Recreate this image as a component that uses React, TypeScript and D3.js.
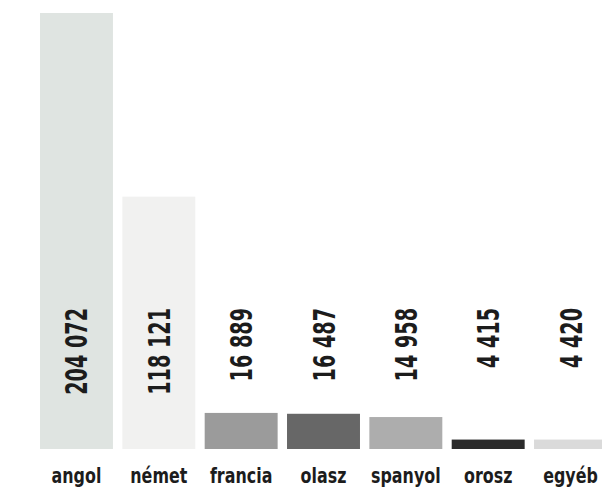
import React, { useEffect, useRef } from 'react';
import * as d3 from 'd3';

const languages = ['angol', 'német', 'francia', 'olasz', 'spanyol', 'orosz', 'egyéb'];
const counts = [204072, 118121, 16889, 16487, 14958, 4415, 4420];
const valueLabels = ['204 072', '118 121', '16 889', '16 487', '14 958', '4 415', '4 420'];
const barColors = ['#dfe4e1', '#f1f1f0', '#9b9b9b', '#676767', '#adadad', '#2b2b2b', '#dadada'];

const W = 602;
const H = 488;

const LanguageBars = () => {
    const svgRef = useRef(null);

    useEffect(() => {
        if (!svgRef.current) return;
        const svg = d3.select(svgRef.current);
        svg.selectAll('*').remove();

        // no condensed font installed, so squeeze DejaVu horizontally
        const font = "'DejaVu Sans', sans-serif";
        const baseY = 449;

        // Scales
        const x = d3.scaleBand()
            .domain(languages)
            .range([40, 607])
            .paddingInner(0.114)
            .paddingOuter(0);

        const y = d3.scaleLinear()
            .domain([0, 204072])
            .range([baseY, 13]);

        // Bars
        svg.append('g')
            .selectAll('rect')
            .data(languages)
            .join('rect')
            .attr('x', d => x(d))
            .attr('y', (d, i) => y(counts[i]))
            .attr('width', x.bandwidth())
            .attr('height', (d, i) => baseY - y(counts[i]))
            .attr('fill', (d, i) => barColors[i]);

        // Vertical value labels
        svg.append('g')
            .selectAll('text')
            .data(languages)
            .join('text')
            .attr('transform', d => `translate(${x(d) + x.bandwidth() / 2 + 11},308) rotate(-90) scale(0.64,1)`)
            .attr('text-anchor', 'end')
            .attr('font-family', font)
            .attr('font-weight', 'bold')
            .attr('font-size', 30)
            .attr('fill', '#1c1c1c')
            .text((d, i) => valueLabels[i]);

        // Category labels
        svg.append('g')
            .selectAll('text')
            .data(languages)
            .join('text')
            .attr('transform', d => `translate(${x(d) + x.bandwidth() / 2},483) scale(0.74,1)`)
            .attr('text-anchor', 'middle')
            .attr('font-family', font)
            .attr('font-weight', 'bold')
            .attr('font-size', 21.5)
            .attr('fill', '#1c1c1c')
            .text(d => d);
    }, []);

    return (
        <svg
            ref={svgRef}
            width={W}
            height={H}
            style={{ position: 'absolute', left: 0, top: 0, background: '#fff' }}
        />
    );
};

export default function App() {
    return <LanguageBars />;
}
